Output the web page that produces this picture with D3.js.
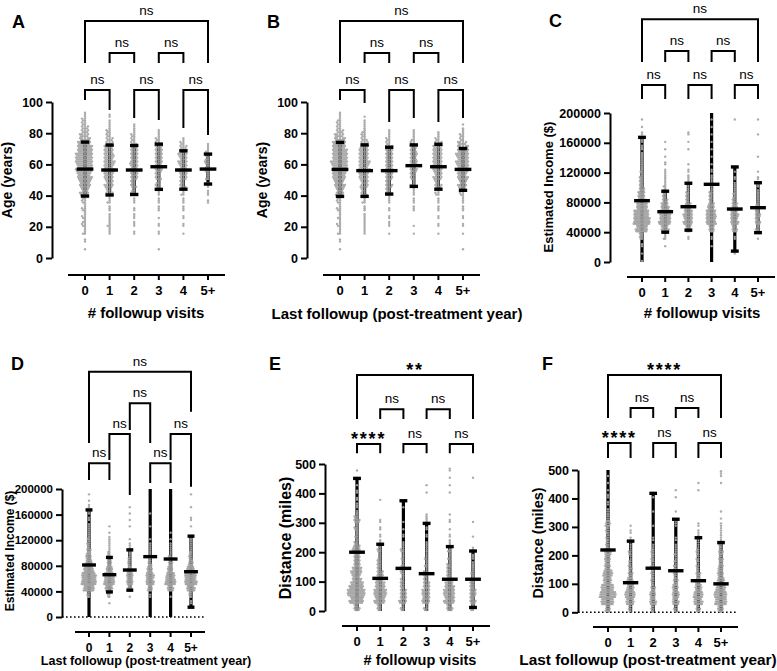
<!DOCTYPE html>
<html>
<head>
<meta charset="utf-8">
<script src="https://cdn.jsdelivr.net/npm/d3@7"></script>
<style>
  body { margin: 0; background: #fff; }
  svg { display: block; font-family: "Liberation Sans", Arial, sans-serif; }
</style>
</head>
<body>
<div id="fig"></div>
<script>
// groups on every x axis
var groups = ["0", "1", "2", "3", "4", "5+"];

// bin lower edges (dots are counted per bin)
var ageBins = d3.range(5, 95, 5);          // 5..90, width 5
var incomeBins = d3.range(0, 200000, 10000); // 0..190000, width 10000
var distBins = d3.range(0, 500, 25);        // 0..475, width 25

// A: age by # followup visits
var ageByVisits = [
  [1,2,5,7,6,6,8,14,20,26,30,32,30,26,18,12,8,3],
  [0,0,4,5,3,3,5,10,14,16,18,18,17,14,10,6,3,2],
  [0,0,2,3,3,2,3,7,9,12,12,13,12,11,8,4,1,0],
  [1,0,2,2,1,3,3,4,7,9,11,12,12,11,6,2,0,0],
  [0,0,1,2,2,3,3,5,9,12,14,14,14,10,2,0,0,0],
  [0,0,0,0,0,0,2,3,3,5,7,7,7,3,0,0,0,0]
];
var ageByVisitsMean = [57, 56.4, 56.4, 58.5, 56.4, 57];
var ageByVisitsSd = [17.3, 16, 15.7, 14.5, 12.3, 9.6];

// B: age by last followup year
var ageByYear = [
  [1,2,5,6,5,6,7,13,18,24,28,30,28,24,18,10,7,3],
  [0,0,4,4,3,3,5,9,13,16,18,18,16,13,9,5,3,1],
  [0,0,1,3,2,2,4,8,10,12,12,12,12,10,6,2,0,0],
  [0,0,1,1,0,3,3,4,6,8,10,11,11,10,5,2,0,0],
  [0,0,1,2,2,3,3,6,10,14,16,16,16,14,6,1,0,0],
  [1,0,1,2,2,3,4,8,14,18,20,22,22,18,8,3,1,0]
];
var ageByYearMean = [56.8, 56, 56, 59.2, 58.5, 56.8];
var ageByYearSd = [17.3, 16.5, 15, 13.3, 14.4, 13.4];

// C: income by # followup visits
var incomeByVisits = [
  [1,1,2,8,30,45,40,28,18,14,8,6,5,4,3,3,2,2,1,1],
  [0,0,1,5,18,30,28,18,10,7,5,4,2,2,1,1,1,0,0,0],
  [0,0,0,2,12,22,22,15,8,6,4,3,2,1,0,1,1,2,0,0],
  [0,0,1,2,12,25,25,15,8,6,4,3,2,1,1,1,1,1,1,1],
  [0,1,0,2,10,18,18,12,7,5,3,2,1,0,0,0,0,0,0,1],
  [0,0,0,1,6,10,10,7,4,3,2,2,1,0,1,0,0,1,0,1]
];
var incomeByVisitsMean = [82300, 67500, 74200, 104300, 71100, 72900];
var incomeByVisitsSd = [85000, 27500, 31500, 105000, 56500, 33500];

// D: income by last followup year
var incomeByYear = [
  [0,0,0,5,28,40,38,25,16,12,8,5,4,3,2,2,2,2,1,1],
  [0,0,1,6,18,28,25,15,9,6,4,3,2,1,1,0,0,0,0,0],
  [0,0,0,1,8,15,15,10,6,4,3,2,1,0,1,1,1,1,0,0],
  [0,0,0,2,10,20,20,12,7,5,3,2,1,0,1,0,1,0,0,0],
  [0,0,0,1,14,28,22,12,8,5,3,2,1,1,0,0,0,0,0,0],
  [0,0,2,6,20,32,30,18,10,6,4,3,2,0,1,2,0,1,0,1]
];
var incomeByYearMean = [81300, 66100, 73400, 94300, 90600, 70800];
var incomeByYearSd = [86000, 27000, 31500, 110000, 112000, 55500];

// E: distance by # followup visits
var distByVisits = [
  [10,30,40,30,18,22,12,12,15,6,5,6,10,3,3,2,2,1,1,1],
  [8,22,28,20,14,10,8,5,6,3,2,2,2,0,0,1,0,0,0,0],
  [6,14,12,8,6,6,5,5,6,2,2,1,1,0,1,0,0,0,0,0],
  [6,15,16,12,8,6,5,5,4,2,2,2,4,1,0,0,1,1,0,0],
  [10,22,24,18,10,8,6,5,5,3,2,1,2,1,0,0,1,1,1,2],
  [5,10,12,8,6,5,3,3,3,0,1,0,1,0,0,0,0,0,1,0]
];
var distByVisitsMean = [200, 111, 145, 127, 108, 108];
var distByVisitsSd = [251, 116, 230, 171, 111, 96];

// F: distance by last followup year
var distByYear = [
  [10,30,40,30,18,22,12,12,14,6,5,6,10,3,2,2,2,1,1,1],
  [6,18,24,16,12,8,7,4,5,3,2,2,1,0,0,0,0,0,0,0],
  [6,14,12,8,6,6,5,6,6,2,2,0,1,0,1,0,1,0,0,0],
  [5,14,15,12,8,6,5,4,4,2,2,0,3,0,1,0,1,1,0,0],
  [8,20,22,15,10,8,5,5,6,3,3,2,2,0,0,0,0,1,1,0],
  [12,28,30,22,16,12,10,8,8,5,3,3,2,1,1,0,0,0,1,3]
];
var distByYearMean = [219, 104, 155, 146, 111, 100];
var distByYearSd = [290, 146, 263, 181, 151, 145];

// comparison brackets: [from, to, label, line value, left leg end, right leg end]
var bracketsA = [
  [0,5,"ns",152,125,125], [1,2,"ns",131.4,125,125], [3,4,"ns",131.4,125,125],
  [0,1,"ns",107.7,101.3,94.9], [2,3,"ns",107.7,89.7,88.5], [4,5,"ns",107.7,83.3,78.8]
];
var bracketsB = [
  [0,5,"ns",152,125,125], [1,2,"ns",131.4,125,125], [3,4,"ns",131.4,125,125],
  [0,1,"ns",107.7,101.3,99.4], [2,3,"ns",107.7,87.2,89.7], [4,5,"ns",107.7,87.2,89.7]
];
var bracketsC = [
  [0,5,"ns",326000,268500,268500], [1,2,"ns",283200,268500,268500], [3,4,"ns",283200,268500,268500],
  [0,1,"ns",237600,218800,218800], [2,3,"ns",237600,218800,218800], [4,5,"ns",237600,218800,218800]
];
var bracketsD = [
  [0,5,"ns",383300,271900,320800], [2,3,"ns",333900,292200,271900],
  [1,2,"ns",285900,245300,190600], [4,5,"ns",285900,245300,203600],
  [0,1,"ns",240200,214100,214100], [3,4,"ns",240200,209400,209400]
];
var bracketsE = [
  [0,5,"**",802.7,653,653], [1,2,"ns",686,653,653], [3,4,"ns",686,653,653],
  [0,1,"****",568,536.4,536.4], [2,3,"ns",568,536.4,536.4], [4,5,"ns",568,536.4,536.4]
];
var bracketsF = [
  [0,5,"****",833.8,683,683], [1,2,"ns",717.8,683,683], [3,4,"ns",717.8,683,683],
  [0,1,"****",594.9,542.2,542.2], [2,3,"ns",594.9,542.2,542.2], [4,5,"ns",594.9,542.2,542.2]
];

var visitsTitle = "# followup visits";
var yearTitle = "Last followup (post-treatment year)";

var panels = [
  { id: "A", counts: ageByVisits, mean: ageByVisitsMean, sd: ageByVisitsSd, brackets: bracketsA,
    bins: ageBins, step: 5, domain: [0, 100], ticks: d3.range(0, 101, 20),
    ytitle: "Age (years)", xtitle: visitsTitle,
    axisX: 52, yr: [258, 102], xr: [85, 208], xLine: [68, 225], xLineY: 275,
    letter: [12, 28], ytPos: [12, 180, 14], xtPos: [146, 318, 15], tickFs: 12.5 },
  { id: "B", counts: ageByYear, mean: ageByYearMean, sd: ageByYearSd, brackets: bracketsB,
    bins: ageBins, step: 5, domain: [0, 100], ticks: d3.range(0, 101, 20),
    ytitle: "Age (years)", xtitle: yearTitle,
    axisX: 307, yr: [258, 102], xr: [340, 463], xLine: [323, 480], xLineY: 275,
    letter: [267, 28], ytPos: [267, 180, 14], xtPos: [397, 319, 15], tickFs: 12.5 },
  { id: "C", counts: incomeByVisits, mean: incomeByVisitsMean, sd: incomeByVisitsSd, brackets: bracketsC,
    bins: incomeBins, step: 10000, domain: [0, 200000], ticks: d3.range(0, 200001, 40000),
    ytitle: "Estimated Income ($)", xtitle: visitsTitle,
    axisX: 610, yr: [262, 113], xr: [642, 758], xLine: [627, 775], xLineY: 277,
    letter: [549, 27], ytPos: [553, 187, 13], xtPos: [702, 318, 15], tickFs: 12.5 },
  { id: "D", counts: incomeByYear, mean: incomeByYearMean, sd: incomeByYearSd, brackets: bracketsD,
    bins: incomeBins, step: 10000, domain: [0, 200000], ticks: d3.range(0, 200001, 40000),
    ytitle: "Estimated Income ($)", xtitle: yearTitle, zeroLine: true,
    axisX: 62, yr: [617, 489], xr: [89, 191], xLine: [75, 205], xLineY: 632,
    letter: [11, 370], ytPos: [14, 551, 12], xtPos: [146, 665, 12.6], tickFs: 11.5 },
  { id: "E", counts: distByVisits, mean: distByVisitsMean, sd: distByVisitsSd, brackets: bracketsE,
    bins: distBins, step: 25, domain: [0, 500], ticks: d3.range(0, 501, 100),
    ytitle: "Distance (miles)", xtitle: visitsTitle,
    axisX: 325, yr: [611, 464], xr: [357, 473], xLine: [342, 490], xLineY: 626,
    letter: [269, 370], ytPos: [291, 538, 16], xtPos: [420, 665, 14.5], tickFs: 12.5 },
  { id: "F", counts: distByYear, mean: distByYearMean, sd: distByYearSd, brackets: bracketsF,
    bins: distBins, step: 25, domain: [0, 500], ticks: d3.range(0, 501, 100),
    ytitle: "Distance (miles)", xtitle: yearTitle, zeroLine: true,
    axisX: 578, yr: [612.3, 470], xr: [608, 721], xLine: [593, 738], xLineY: 627,
    letter: [542, 370], ytPos: [543, 543, 14.5], xtPos: [648, 665, 15.4], tickFs: 12.5 }
];

var svg = d3.select("#fig").append("svg")
  .attr("width", 777)
  .attr("height", 671);

svg.append("rect").attr("width", 777).attr("height", 671).attr("fill", "#fff");

// lay the binned dots out as a small swarm around the group centre
function swarm(counts, bins, step, y, cx, dx) {
  var pts = [];
  counts.forEach(function (n, bi) {
    if (!n) return;
    var y0 = y(bins[bi]), y1 = y(bins[bi] + step);
    var h = Math.abs(y0 - y1);
    var rows = Math.max(1, Math.floor(h / 1.8));
    for (var k = 0; k < n; k++) {
      var row = k % rows, col = Math.floor(k / rows);
      var side = col % 2 ? -1 : 1;
      var off = side * Math.ceil(col / 2) * dx + (row % 2 && col > 0 ? dx / 2 * side : 0);
      pts.push({ x: cx + off, y: y0 - (row + 0.5) * h / rows });
    }
  });
  return pts;
}

panels.forEach(function (p) {
  var g = svg.append("g").attr("class", "panel");
  var y = d3.scaleLinear().domain(p.domain).range(p.yr);
  var x = d3.scalePoint().domain(groups).range(p.xr);
  var step = x.step();

  // widest bin decides the dot spacing
  var maxCols = 1;
  p.counts.forEach(function (c) {
    c.forEach(function (n, bi) {
      var h = Math.abs(y(p.bins[bi]) - y(p.bins[bi] + p.step));
      var rows = Math.max(1, Math.floor(h / 1.8));
      maxCols = Math.max(maxCols, Math.ceil(n / rows));
    });
  });
  var dx = Math.min(2, 0.72 * step / maxCols);

  if (p.zeroLine) {
    g.append("line")
      .attr("x1", p.axisX).attr("x2", p.xLine[1])
      .attr("y1", y(0)).attr("y2", y(0))
      .attr("stroke", "#000").attr("stroke-width", 1.6)
      .attr("stroke-dasharray", "1.6,2.4");
  }

  // y axis
  var yAxis = g.append("g")
    .attr("transform", "translate(" + p.axisX + ",0)")
    .call(d3.axisLeft(y).tickValues(p.ticks).tickSize(6).tickSizeOuter(0).tickPadding(3).tickFormat(d3.format("d")));
  yAxis.attr("font-family", null).attr("font-size", null);
  yAxis.select(".domain").attr("stroke-width", 2);
  yAxis.selectAll(".tick line").attr("stroke-width", 2);
  yAxis.selectAll(".tick text")
    .attr("fill", "#000").style("font-weight", "bold").style("font-size", p.tickFs + "px");

  // detached x axis
  g.append("line")
    .attr("x1", p.xLine[0]).attr("x2", p.xLine[1])
    .attr("y1", p.xLineY).attr("y2", p.xLineY)
    .attr("stroke", "#000").attr("stroke-width", 2);
  g.selectAll(".xtick").data(groups).enter().append("line")
    .attr("x1", function (d) { return x(d); }).attr("x2", function (d) { return x(d); })
    .attr("y1", p.xLineY).attr("y2", p.xLineY + 5)
    .attr("stroke", "#000").attr("stroke-width", 2);
  g.selectAll(".xlab").data(groups).enter().append("text")
    .attr("x", function (d) { return x(d); })
    .attr("y", p.xLineY + 20)
    .attr("text-anchor", "middle")
    .style("font-weight", "bold").style("font-size", p.tickFs + 0.5 + "px")
    .text(function (d) { return d; });

  var lo = function (i) { return Math.max(p.domain[0], p.mean[i] - p.sd[i]); };
  var hi = function (i) { return Math.min(p.domain[1], p.mean[i] + p.sd[i]); };
  var idx = d3.range(groups.length);

  // SD bars under the dots
  g.selectAll(".sdbar").data(idx).enter().append("line")
    .attr("x1", function (i) { return x(groups[i]); }).attr("x2", function (i) { return x(groups[i]); })
    .attr("y1", function (i) { return y(lo(i)); }).attr("y2", function (i) { return y(hi(i)); })
    .attr("stroke", "#000").attr("stroke-width", 3.2);

  // dots
  p.counts.forEach(function (c, gi) {
    var pts = swarm(c, p.bins, p.step, y, x(groups[gi]), dx);
    g.append("g").selectAll("circle").data(pts).enter().append("circle")
      .attr("cx", function (d) { return d.x; })
      .attr("cy", function (d) { return d.y; })
      .attr("r", 1.2)
      .attr("fill", "#a3a3a3")
      .attr("fill-opacity", 0.9);
  });

  // mean line and caps over the dots
  var capW = step * 0.34, meanW = step * 0.68;
  idx.forEach(function (i) {
    var cx = x(groups[i]);
    g.append("line")
      .attr("x1", cx - meanW / 2).attr("x2", cx + meanW / 2)
      .attr("y1", y(p.mean[i])).attr("y2", y(p.mean[i]))
      .attr("stroke", "#000").attr("stroke-width", 3.4);
    [lo(i), hi(i)].forEach(function (v) {
      if (v === p.domain[0] || v === p.domain[1]) return;
      g.append("line")
        .attr("x1", cx - capW / 2).attr("x2", cx + capW / 2)
        .attr("y1", y(v)).attr("y2", y(v))
        .attr("stroke", "#000").attr("stroke-width", 3.4);
    });
  });

  // significance brackets
  p.brackets.forEach(function (b) {
    var x1 = x(groups[b[0]]), x2 = x(groups[b[1]]), yl = y(b[3]);
    g.append("path")
      .attr("d", "M" + x1 + "," + y(b[4]) + "V" + yl + "H" + x2 + "V" + y(b[5]))
      .attr("fill", "none").attr("stroke", "#000").attr("stroke-width", 2);
    var star = b[2].indexOf("*") >= 0;
    g.append("text")
      .attr("x", (x1 + x2) / 2)
      .attr("y", star ? yl + 1 : yl - 6)
      .attr("text-anchor", "middle")
      .style("font-size", star ? "18px" : "13.5px")
      .style("font-weight", star ? "bold" : "normal")
      .style("letter-spacing", star ? "1.8px" : null)
      .text(b[2]);
  });

  // titles
  g.append("text")
    .attr("x", p.letter[0]).attr("y", p.letter[1])
    .style("font-size", "18px").style("font-weight", "bold")
    .text(p.id);
  g.append("text")
    .attr("transform", "translate(" + p.ytPos[0] + "," + p.ytPos[1] + ") rotate(-90)")
    .attr("text-anchor", "middle")
    .style("font-size", p.ytPos[2] + "px").style("font-weight", "bold")
    .text(p.ytitle);
  g.append("text")
    .attr("x", p.xtPos[0]).attr("y", p.xtPos[1])
    .attr("text-anchor", "middle")
    .style("font-size", p.xtPos[2] + "px").style("font-weight", "bold")
    .text(p.xtitle);
});
</script>
</body>
</html>
